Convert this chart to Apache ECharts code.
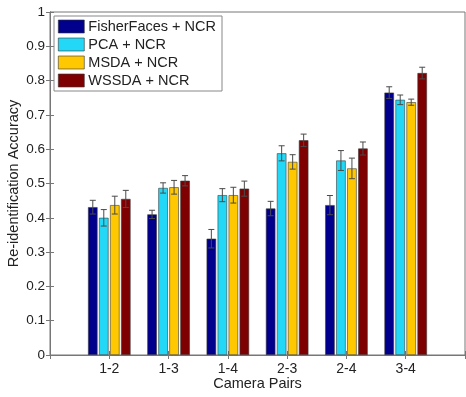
<!DOCTYPE html>
<html>
<head>
<meta charset="utf-8">
<script src="https://cdn.jsdelivr.net/npm/echarts@6/dist/echarts.min.js"></script>
<style>
html,body{margin:0;padding:0;background:#fff;}
#chart{width:466px;height:397px;}
</style>
</head>
<body>
<div id="chart"></div>
<script>
const categories = ['1-2', '1-3', '1-4', '2-3', '2-4', '3-4'];
const seriesNames = ['FisherFaces + NCR', 'PCA + NCR', 'MSDA + NCR', 'WSSDA + NCR'];
const fisherMean = [0.431, 0.410, 0.339, 0.427, 0.437, 0.765];
const fisherErr  = [0.020, 0.012, 0.027, 0.021, 0.028, 0.017];
const pcaMean    = [0.400, 0.487, 0.466, 0.588, 0.567, 0.744];
const pcaErr     = [0.024, 0.015, 0.019, 0.022, 0.029, 0.014];
const msdaMean   = [0.437, 0.489, 0.466, 0.563, 0.544, 0.737];
const msdaErr    = [0.026, 0.020, 0.023, 0.021, 0.030, 0.009];
const wssdaMean  = [0.455, 0.508, 0.485, 0.626, 0.602, 0.822];
const wssdaErr   = [0.025, 0.015, 0.022, 0.018, 0.019, 0.017];
const yTicks = [0, 0.1, 0.2, 0.3, 0.4, 0.5, 0.6, 0.7, 0.8, 0.9, 1];

const means = [fisherMean, pcaMean, msdaMean, wssdaMean];
const errs = [fisherErr, pcaErr, msdaErr, wssdaErr];
const colors = ['#00008C', '#22D8F6', '#FFC800', '#7F0000'];
const BAR_W = 9.5, BAR_STEP = 11;
const font = 'Liberation Sans, Arial, sans-serif';

const chart = echarts.init(document.getElementById('chart'), null, {renderer: 'canvas'});

const series = [];
means.forEach((m, s) => {
  series.push({
    name: seriesNames[s],
    type: 'bar',
    barWidth: BAR_W,
    barGap: ((BAR_STEP - BAR_W) / BAR_W * 100) + '%',
    itemStyle: {color: colors[s], borderColor: '#3a3a3a', borderWidth: 0.6},
    data: m.map((v, i) => [i + 1, v]),
    z: 2
  });
});
means.forEach((m, s) => {
  series.push({
    type: 'custom',
    name: 'err' + s,
    data: m.map((v, i) => [i + 1, v, errs[s][i]]),
    encode: {x: 0, y: 1},
    z: 5,
    silent: true,
    renderItem: function (params, api) {
      const x = api.value(0), v = api.value(1), e = api.value(2);
      const off = (s - 1.5) * BAR_STEP;
      const top = api.coord([x, v + e]);
      const bot = api.coord([x, v - e]);
      const cx = top[0] + off;
      const cap = 3;
      const st = {stroke: '#4a4a4a', lineWidth: 1, fill: null};
      return {
        type: 'group',
        children: [
          {type: 'line', shape: {x1: cx, y1: top[1], x2: cx, y2: bot[1]}, style: st},
          {type: 'line', shape: {x1: cx - cap, y1: top[1], x2: cx + cap, y2: top[1]}, style: st},
          {type: 'line', shape: {x1: cx - cap, y1: bot[1], x2: cx + cap, y2: bot[1]}, style: st}
        ]
      };
    }
  });
});

const axisLineStyle = {color: '#777', width: 1};

chart.setOption({
  animation: false,
  backgroundColor: '#fff',
  textStyle: {fontFamily: font},
  grid: {left: 50, right: 1, top: 12, bottom: 42, show: true, borderColor: '#777', borderWidth: 1,
         containLabel: false, outerBoundsMode: 'none'},
  legend: {
    data: seriesNames,
    orient: 'vertical',
    icon: 'rect',
    left: 54, top: 16,
    itemWidth: 26, itemHeight: 13, itemGap: 3,
    padding: [3, 6, 3, 4],
    backgroundColor: '#fff',
    borderColor: '#888', borderWidth: 1,
    textStyle: {fontSize: 14.5, color: '#222', fontFamily: font, padding: [0, 0, 0, -1]},
    itemStyle: {borderColor: '#333', borderWidth: 0.6}
  },
  xAxis: [{
    type: 'value', min: 0, max: 7, interval: 1,
    name: 'Camera Pairs', nameLocation: 'middle', nameGap: 21, nameMoveOverlap: false,
    nameTextStyle: {fontSize: 14.5, color: '#222'},
    axisLine: {show: true, lineStyle: axisLineStyle},
    axisTick: {show: true, inside: true, length: 4, lineStyle: axisLineStyle},
    axisLabel: {fontSize: 14, color: '#222', margin: 7,
      formatter: v => (v >= 1 && v <= categories.length) ? categories[v - 1] : ''},
    splitLine: {show: false}
  }, {
    type: 'value', min: 0, max: 7, interval: 1, position: 'top',
    axisLine: {show: true, lineStyle: axisLineStyle},
    axisTick: {show: true, inside: true, length: 4, lineStyle: axisLineStyle},
    axisLabel: {show: false}, splitLine: {show: false}
  }],
  yAxis: [{
    type: 'value', min: 0, max: 1, interval: 0.1,
    name: 'Re-identification Accuracy', nameLocation: 'middle', nameGap: 29, nameMoveOverlap: false,
    nameTextStyle: {fontSize: 14.5, color: '#222'},
    axisLine: {show: true, lineStyle: axisLineStyle},
    axisTick: {show: true, inside: true, length: 4, lineStyle: axisLineStyle},
    axisLabel: {fontSize: 13.5, color: '#222', margin: 5,
      formatter: v => {
        const t = yTicks.find(k => Math.abs(k - v) < 1e-9);
        return t === undefined ? '' : String(t);
      }},
    splitLine: {show: false}
  }, {
    type: 'value', min: 0, max: 1, interval: 0.1, position: 'right',
    axisLine: {show: true, lineStyle: axisLineStyle},
    axisTick: {show: true, inside: true, length: 4, lineStyle: axisLineStyle},
    axisLabel: {show: false}, splitLine: {show: false}
  }],
  series: series
});
</script>
</body>
</html>
